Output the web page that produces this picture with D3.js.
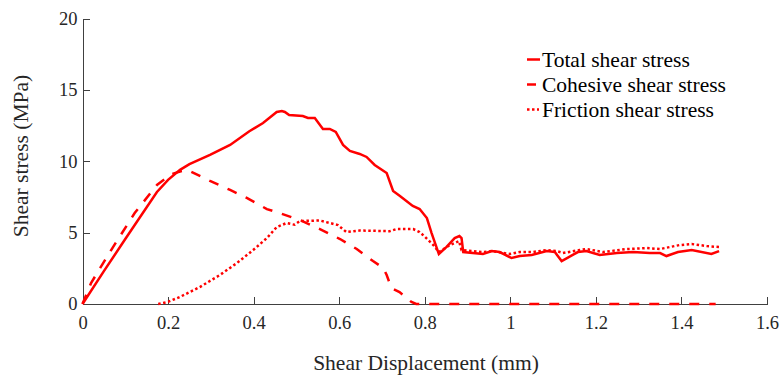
<html>
<script src='https://d3js.org/d3.v7.min.js'></script>
<style>
body { margin: 0; background-color: #ffffff; }
.axis path, .axis line { fill: none; stroke: #404040; stroke-width: 1px; shape-rendering: crispEdges; }
.axis text { fill: #262626; font-family: 'Liberation Serif', 'Times New Roman', serif; font-size: 18.5px; }
.label { font-family: 'Liberation Serif', 'Times New Roman', serif; font-size: 21.5px; fill: #262626; }
.legend text { font-family: 'Liberation Serif', 'Times New Roman', serif; font-size: 21.5px; fill: #000; }
</style>
<body>
<script>

// shear displacement (mm) / shear stress (MPa)
var totalX = [0, 0.05, 0.1, 0.174, 0.2, 0.228, 0.25, 0.298, 0.345, 0.39, 0.422, 0.454, 0.466, 0.473, 0.483, 0.515, 0.527, 0.543, 0.562, 0.578, 0.592, 0.609, 0.625, 0.648, 0.664, 0.683, 0.711, 0.726, 0.742, 0.772, 0.788, 0.805, 0.816, 0.833, 0.851, 0.870, 0.881, 0.886, 0.890, 0.936, 0.957, 0.975, 1.003, 1.022, 1.050, 1.085, 1.104, 1.120, 1.158, 1.178, 1.209, 1.249, 1.287, 1.326, 1.350, 1.365, 1.392, 1.424, 1.470, 1.488];
var totalY = [0, 2.3, 4.55, 7.85, 8.7, 9.4, 9.8, 10.44, 11.14, 12.1, 12.68, 13.45, 13.52, 13.45, 13.24, 13.17, 13.03, 13.03, 12.26, 12.26, 12.05, 11.14, 10.72, 10.51, 10.3, 9.74, 9.18, 7.92, 7.57, 6.87, 6.65, 6.02, 4.97, 3.5, 4.0, 4.62, 4.76, 4.62, 3.64, 3.5, 3.71, 3.64, 3.22, 3.36, 3.43, 3.71, 3.64, 3.01, 3.64, 3.71, 3.43, 3.57, 3.64, 3.57, 3.57, 3.36, 3.64, 3.78, 3.5, 3.71];

var cohesiveX = [0, 0.02, 0.067, 0.122, 0.174, 0.209, 0.232, 0.245, 0.298, 0.345, 0.384, 0.431, 0.461, 0.508, 0.555, 0.602, 0.641, 0.679, 0.703, 0.711, 0.722, 0.741, 0.769, 0.78, 1.48];
var cohesiveY = [0, 1.47, 3.78, 6.37, 8.34, 9.11, 9.32, 9.4, 8.62, 7.99, 7.43, 6.65, 6.37, 5.88, 5.25, 4.55, 3.85, 3.01, 2.52, 2.03, 1.12, 0.84, 0.14, 0, 0];

var frictionX = [0.177, 0.2, 0.228, 0.275, 0.321, 0.361, 0.399, 0.431, 0.454, 0.477, 0.496, 0.508, 0.555, 0.597, 0.617, 0.648, 0.718, 0.734, 0.773, 0.788, 0.796, 0.820, 0.833, 0.859, 0.880, 0.886, 0.936, 0.957, 0.999, 1.022, 1.053, 1.085, 1.108, 1.123, 1.162, 1.178, 1.217, 1.272, 1.319, 1.350, 1.396, 1.424, 1.459, 1.488];
var frictionY = [0, 0.15, 0.5, 1.2, 2.03, 2.87, 3.78, 4.62, 5.39, 5.67, 5.55, 5.81, 5.85, 5.53, 5.04, 5.15, 5.1, 5.25, 5.25, 5.04, 4.83, 4.13, 3.64, 4.13, 4.41, 3.78, 3.64, 3.71, 3.5, 3.64, 3.64, 3.78, 3.71, 3.57, 3.78, 3.85, 3.64, 3.85, 3.92, 3.85, 4.13, 4.2, 4.06, 3.99];

var seriesNames = ["Total shear stress", "Cohesive shear stress", "Friction shear stress"];
var xTicks = [0, 0.2, 0.4, 0.6, 0.8, 1, 1.2, 1.4, 1.6];
var yTicks = [0, 5, 10, 15, 20];

var margin = {top: 18.5, right: 14, bottom: 72, left: 82.5},
    width = 781 - margin.left - margin.right,
    height = 376 - margin.top - margin.bottom;

var x = d3.scaleLinear().domain([0, 1.6]).range([0, width]);
var y = d3.scaleLinear().domain([0, 20]).range([height, 0]);

var svg = d3.select('body').append("svg")
    .attr("width", 781)
    .attr("height", 376)
  .append("g")
    .attr("transform", "translate(" + margin.left + "," + margin.top + ")");

var styles = [
  {dash: null},
  {dash: "10,10"},
  {dash: "2.5,2.5"}
];

function pairs(xs, ys) {
  return xs.map(function(v, i) { return [v, ys[i]]; });
}
var lines = [pairs(totalX, totalY), pairs(cohesiveX, cohesiveY), pairs(frictionX, frictionY)];

var line = d3.line()
    .x(function(d) { return x(d[0]); })
    .y(function(d) { return y(d[1]); });

// axes first so the curves sit on top
svg.append("g")
    .attr("class", "axis")
    .attr("transform", "translate(0," + height + ")")
    .call(d3.axisBottom(x).tickValues(xTicks).tickFormat(d3.format("~g")).tickSizeInner(-7).tickSizeOuter(0).tickPadding(12));

svg.append("g")
    .attr("class", "axis")
    .call(d3.axisLeft(y).tickValues(yTicks).tickSizeInner(-7).tickSizeOuter(0).tickPadding(5));

lines.forEach(function(pts, i) {
  svg.append("path")
      .datum(pts)
      .attr("fill", "none")
      .attr("stroke", "#ff0000")
      .attr("stroke-width", 2.5)
      .attr("stroke-dasharray", styles[i].dash)
      .attr("d", line);
});

svg.append("text")
    .attr("class", "label")
    .attr("x", 343.5)
    .attr("y", height + 66)
    .attr("text-anchor", "middle")
    .text("Shear Displacement (mm)");

svg.append("text")
    .attr("class", "label")
    .attr("transform", "translate(-55,137.5)rotate(-90)")
    .attr("text-anchor", "middle")
    .text("Shear stress (MPa)");

// legend
var legend = svg.selectAll(".legend")
    .data(seriesNames)
    .enter().append("g")
    .attr("class", "legend")
    .attr("transform", function(d, i) { return "translate(" + (527 - margin.left) + "," + (41 + i * 25) + ")"; });

legend.append("line")
    .attr("x1", 0)
    .attr("x2", function(d, i) { return i == 1 ? 9 : (i == 2 ? 12 : 13); })
    .attr("y1", 0)
    .attr("y2", 0)
    .attr("stroke", "#ff0000")
    .attr("stroke-width", 2.5)
    .attr("stroke-dasharray", function(d, i) { return styles[i].dash; });

legend.append("text")
    .attr("x", 15)
    .attr("y", 7)
    .text(function(d) { return d; });

</script>
</body>
</html>
